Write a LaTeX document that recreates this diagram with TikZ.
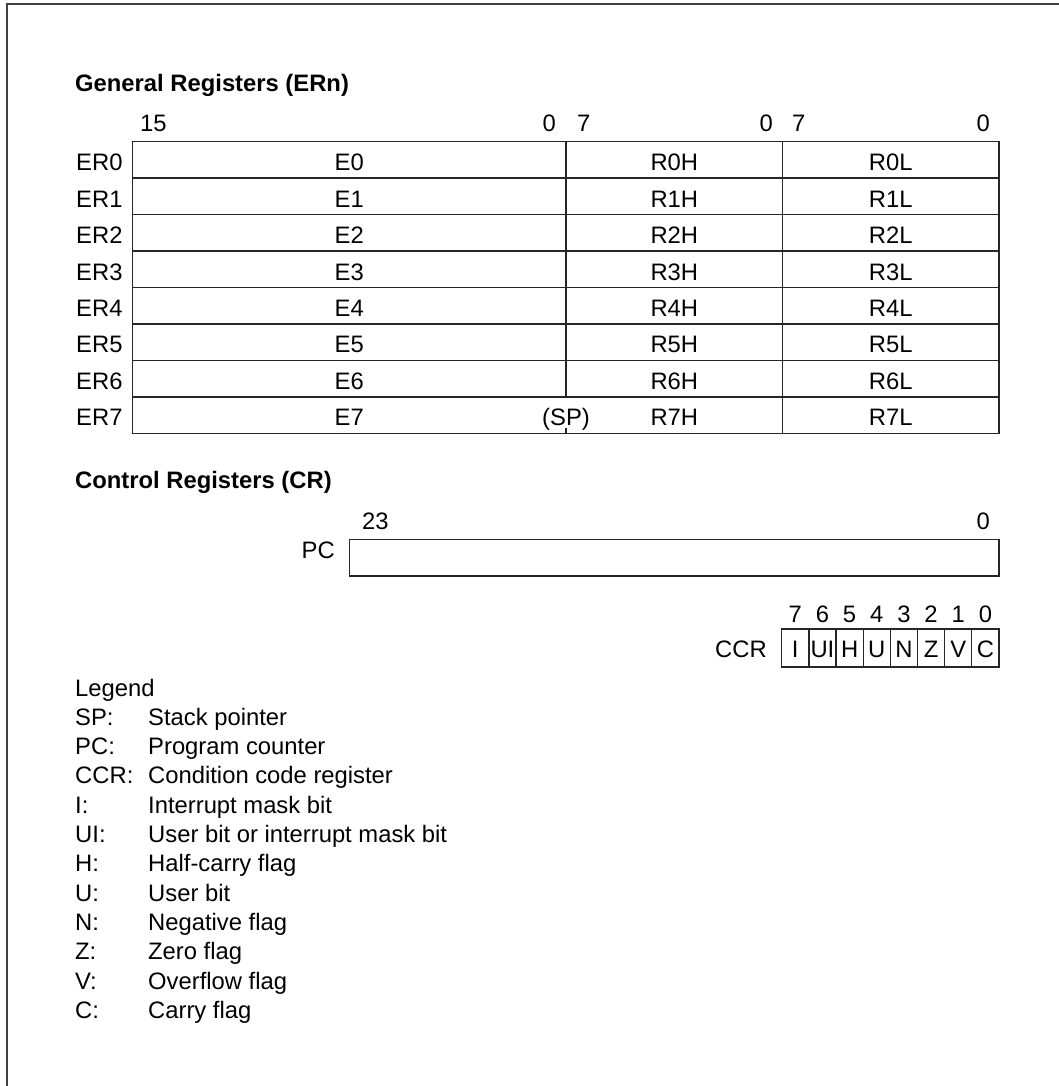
\documentclass[tikz,border=0pt]{standalone}
\usepackage{fontspec}
\setmainfont{Liberation Sans}
\begin{document}
\begin{tikzpicture}[x=1pt,y=-1pt,
  grid/.style={draw=black!85, line width=1.3pt},
  lbl/.style={inner sep=0pt, font=\fontsize{23.8}{28}\selectfont},
  head/.style={inner sep=0pt, font=\fontsize{23.8}{28}\selectfont\bfseries}]
\useasboundingbox (0,0) rectangle (1059,1086);
\draw[line width=2pt, black!75] (6.5,1086) -- (6.5,4.5) -- (1059,4.5);

% General registers
\node[head, anchor=base west] (hgen) at (75,92) {General Registers (ERn)};
\node[lbl, anchor=base west] (b15) at (140,132) {15};
\node[lbl, anchor=base east] (b0a) at (556,132) {0};
\node[lbl, anchor=base west] (b7a) at (577,132) {7};
\node[lbl, anchor=base east] (b0b) at (773,132) {0};
\node[lbl, anchor=base west] (b7b) at (792,132) {7};
\node[lbl, anchor=base east] (b0c) at (990,132) {0};

\foreach \i in {0,...,7} {
  \pgfmathsetmacro\ry{141.7+36.45*\i}
  \draw[grid] (132.7,\ry) rectangle (999,\ry+36.45);
  \node[lbl, anchor=base west] (er\i) at (76,\ry+29) {ER\i};
  \node[lbl, anchor=base] (e\i) at (349.3,\ry+29) {E\i};
  \node[lbl, anchor=base] (rh\i) at (674.3,\ry+29) {R\i H};
  \node[lbl, anchor=base] (rl\i) at (890.8,\ry+29) {R\i L};
}
\draw[grid] (566,141.7) -- (566,396.7);
\draw[grid] (566,428) -- (566,433.3);
\draw[grid] (782.5,141.7) -- (782.5,433.3);
\node[lbl, anchor=base] (sp) at (566,396.7+29) {(SP)};

% Control registers
\node[head, anchor=base west] (hctl) at (75,488) {Control Registers (CR)};
\node[lbl, anchor=base west] (b23) at (362,529) {23};
\node[lbl, anchor=base east] (b0pc) at (990,529) {0};
\node[lbl, anchor=base east] (pcl) at (335,558) {PC};
\draw[grid] (349.3,539.3) rectangle (999,576);

\node[lbl, anchor=base east] (ccrl) at (767,657) {CCR};
\foreach \j/\t in {0/I,1/UI,2/H,3/U,4/N,5/Z,6/V,7/C} {
  \pgfmathsetmacro\cx{781.7+27.16*\j}
  \pgfmathtruncatemacro\bn{7-\j}
  \draw[grid] (\cx,629) rectangle (\cx+27.16,667);
  \node[lbl, anchor=base] (cc\j) at (\cx+13.58,657) {\t};
  \node[lbl, anchor=base] (bn\j) at (\cx+13.58,622) {\bn};
}

% Legend
\node[lbl, anchor=base west] (leg) at (75,696) {Legend};
\foreach \k/\a/\d in {1/SP:/Stack pointer,2/PC:/Program counter,3/CCR:/Condition code register,4/I:/Interrupt mask bit,5/UI:/User bit or interrupt mask bit,6/H:/Half-carry flag,7/U:/User bit,8/N:/Negative flag,9/Z:/Zero flag,10/V:/Overflow flag,11/C:/Carry flag} {
  \node[lbl, anchor=base west] (la\k) at (75,696+29.3*\k) {\a};
  \node[lbl, anchor=base west] (ld\k) at (148,696+29.3*\k) {\d};
}
\end{tikzpicture}
\end{document}
